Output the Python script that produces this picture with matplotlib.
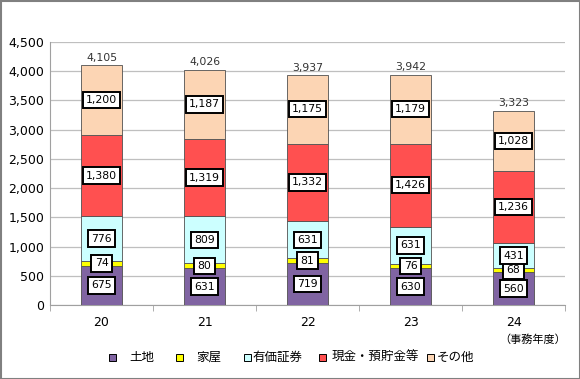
import matplotlib
matplotlib.use("Agg")
import matplotlib.pyplot as plt
import numpy as np

plt.rcParams['font.family'] = ['DejaVu Sans', 'Noto Sans CJK JP']

categories = ['20', '21', '22', '23', '24']
series_names = ['土地', '家屋', '有価証券', '現金・預貯金等', 'その他']
land = [675, 631, 719, 630, 560]
house = [74, 80, 81, 76, 68]
securities = [776, 809, 631, 631, 431]
cash = [1380, 1319, 1332, 1426, 1236]
other = [1200, 1187, 1175, 1179, 1028]
totals = [4105, 4026, 3937, 3942, 3323]
colors = ['#8064A2', '#FFFF00', '#CCFFFF', '#FF5050', '#FCD5B4']

series = [land, house, securities, cash, other]

W, H = 580, 379
fig = plt.figure(figsize=(5.8, 3.79), dpi=100)
fig.patch.set_facecolor('white')
ax = fig.add_axes([50/W, 1-305/H, 515/W, 263/H])

x = np.arange(len(categories))
bottom = np.zeros(len(categories))
for vals, c, name in zip(series, colors, series_names):
    vals = np.array(vals, dtype=float)
    ax.bar(x, vals, 0.39, bottom=bottom, color=c, edgecolor='#505050',
           linewidth=0.6, label=name, zorder=3)
    for xi, v, bt in zip(x, vals, bottom):
        ax.text(xi, bt + v/2, f'{int(v):,}', ha='center', va='center', fontsize=7.8,
                zorder=5, family=['DejaVu Sans'],
                bbox=dict(boxstyle='square,pad=0.3', fc='white', ec='black', lw=1.4))
    bottom += vals

for xi, t, top in zip(x, totals, bottom):
    ax.text(xi, top + 40, f'{t:,}', ha='center', va='bottom', fontsize=7.8, color='#333333')

ax.set_xlim(-0.5, len(categories) - 0.5)
ax.set_ylim(0, 4500)
ax.set_yticks(np.arange(0, 4501, 500))
ax.set_yticklabels([f'{v:,}' for v in range(0, 4501, 500)], fontsize=9)
ax.set_xticks(x)
ax.set_xticklabels(categories, fontsize=9)
ax.set_xticks(np.arange(-0.5, len(categories)), minor=True)
ax.tick_params(axis='x', which='major', length=0, pad=8)
ax.tick_params(axis='x', which='minor', length=4, color='#A0A0A0', direction='out')
ax.tick_params(axis='y', length=0, pad=4)
ax.grid(axis='y', color='#BFBFBF', linewidth=0.9, zorder=0)
for s in ['top', 'right']:
    ax.spines[s].set_visible(False)
for s in ['left', 'bottom']:
    ax.spines[s].set_color('#A0A0A0')

fig.text(533/W, 1-340/H, '（事務年度）', ha='center', va='center', fontsize=8,
         family=['Noto Sans CJK JP'])

# legend drawn manually
marker_x = [112, 179, 247, 322, 430]
text_x = [129, 196, 252, 332, 437]
ly = 357
ms = 7
for mx, tx, c, name in zip(marker_x, text_x, colors, series_names):
    fig.add_artist(plt.Rectangle(((mx - ms/2)/W, 1-(ly + ms/2)/H), ms/W, ms/H,
                                 transform=fig.transFigure, facecolor=c,
                                 edgecolor='black', linewidth=0.7))
    fig.text(tx/W, 1-ly/H, name, ha='left', va='center', fontsize=9,
             family=['Noto Sans CJK JP'])

fig.add_artist(plt.Rectangle((0.5/W, 0.5/H), 1-1/W, 1-1/H, transform=fig.transFigure,
                             fill=False, edgecolor='#808080', linewidth=1.5))

fig.savefig('out.png', dpi=100)
